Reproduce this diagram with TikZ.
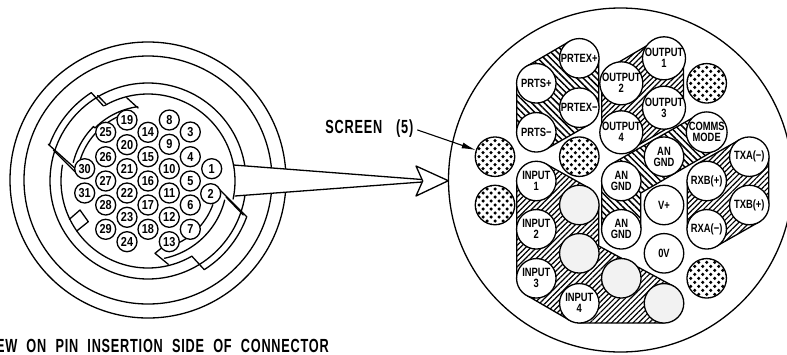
\documentclass[tikz,border=0pt]{standalone}
\usepackage{fontspec}
\usetikzlibrary{patterns.meta,arrows.meta}
\newfontfamily\narrowf[FakeStretch=0.78]{Liberation Sans}
\newfontfamily\titlef[FakeStretch=0.67,LetterSpace=4]{Liberation Sans}
\newfontfamily\pinf[FakeStretch=0.84]{Liberation Sans}
\newcommand{\rarc}[3]{plot[domain=#2:#3,samples=60] ({148+#1*cos(\x)},{181+#1*sin(\x)})}
\tikzset{
  ln/.style={line width=1.3pt,line join=round,line cap=round},
  pinnode/.style={circle,draw,fill=white,line width=1.3pt,minimum size=20pt,inner sep=0pt,font=\pinf\bfseries\fontsize{13}{12}\selectfont},
  cav/.style={circle,draw,fill=white,line width=1.3pt,minimum size=39.5pt,inner sep=0pt,align=center,font=\narrowf\bfseries\fontsize{12}{11}\selectfont},
  blank/.style={cav,fill=black!5},
  dotcav/.style={cav,path picture={
    \foreach \i in {-3,...,3}\foreach \j in {-6,...,6}{
      \pgfmathsetmacro{\dx}{8*\i+4*mod(abs(\j),2)}
      \pgfmathsetmacro{\dy}{4*\j}
      \fill[black] ([shift={(\dx pt,\dy pt)}]path picture bounding box.center) circle[radius=1.75pt];
    }}},
  hatchA/.style={draw,line width=1.3pt,pattern={Lines[angle=-45,distance=4.5pt,line width=1.5pt]}},
  hatchB/.style={draw,line width=1.3pt,pattern={Lines[angle=45,distance=3.8pt,line width=1.2pt]}},
  lbl/.style={inner sep=0pt,font=\titlef\bfseries\fontsize{19}{19}\selectfont}
}
\begin{document}
\begin{tikzpicture}[x=1pt,y=-1pt]
\useasboundingbox (0,0) rectangle (787,354);
% left connector circles
\draw[ln] (148,180) circle[radius=138pt];
\draw[ln] (148,180) circle[radius=124pt];
\draw[ln] (148,181) circle[radius=98pt];
% wedge
\fill[white] (233.5,165) -- (422,179.5) -- (422,182) -- (235,196) -- cycle;
\draw[ln] (233.5,165) -- (422,179.5);
\draw[ln] (235,196) -- (422,182);
% R87 circle pieces
\draw[ln] \rarc{87}{-120}{12};
\draw[ln] \rarc{87}{60}{190.5};
% upper-left key
\draw[ln] (75,168.3) -- (48.3,144.3) -- plot[domain=200.2:237.3,samples=40] ({148+105*cos(\x)},{181+105*sin(\x)}) -- (103.5,106);
\draw[ln] (53.3,150) -- (75,171.7);
\draw[ln] (97.7,95.5) -- (106,104);
\draw[ln] (126.7,97.7) -- (138,108) -- plot[domain=262:225,samples=30] ({148+75*cos(\x)},{181+75*sin(\x)}) -- plot[domain=225:194,samples=30] ({148+77*cos(\x)},{181+77*sin(\x)});
\draw[ln] \rarc{71}{250}{197};
% lower-right key
\draw[ln] (215,185) -- (246.7,216.7) -- plot[domain=19.9:57.6,samples=40] ({148+105*cos(\x)},{181+105*sin(\x)}) -- (191.7,256);
\draw[ln] (226,197) -- (243.3,215);
\draw[ln] (168.3,264.3) -- (155,253.3) -- (161.5,248);
\draw[ln] \rarc{79}{14}{78};
\draw[ln] \rarc{69}{20}{41} -- (194,223);
\draw[ln] \rarc{69}{50}{66};
% keyway
\draw[ln] (69.3,219.3) -- (80,210) -- (88.3,221.7) -- (76.7,231);
% pins
\foreach \n/\px/\py in {8/169.3/120,3/190.3/132,14/148/132.3,9/169.3/144.3,4/190.3/156.7,19/127/120,20/127/144.7,15/148/156.7,10/169.3/168.7,5/190.3/181,1/211.7/168.7,2/210.7/193.7,25/105.7/132.3,26/105.7/156.7,21/127/168.7,16/148/181,11/169.3/193,6/190.3/205,30/84.7/168.7,27/105.7/181,22/127/193,17/148/205,12/169.3/217.3,7/190.3/229.3,31/84.7/193,28/105.7/205,23/127/217.3,18/148/229.3,13/169.3/241.7,29/105.7/229.3,24/127/241.7}
  \node[pinnode] (p\n) at (\px,\py) {\n};
% large view
\draw[ln] (620.5,180) circle[radius=172pt];
% arrow head
\draw[ln,fill=white] (416,166) -- (448.3,180.7) -- (416,196) -- (422.7,181) -- cycle;
% hatched regions
\path[hatchA] (516.8,83.3) -- (526.5,66.4) -- (569.5,41.4) -- (598.8,58.3) -- (598.8,107.7) -- (589.1,124.6) -- (546.1,149.2) -- (516.8,132.3) -- cycle;
\path[hatchB] (601.8,83.3) -- (611.5,66.4) -- (654.2,41.4) -- (683.5,58.3) -- (683.5,107.7) -- (673.8,124.6) -- (631.1,149.2) -- (601.8,132.3) -- cycle;
\path[hatchA] (697,115.4) -- (611.5,164) -- (601.8,181) -- (601.8,229.3) -- (640.8,229.3) -- (640.8,193) -- (716.4,149.2) -- cycle;
\path[hatchB] (739.5,139.8) -- (697,164) -- (687.2,181) -- (687.2,229.3) -- (716.4,246.2) -- (759,222) -- (768.8,205) -- (768.8,156.7) -- cycle;
\path[hatchB] (546,164) -- (589,188) -- (598.8,205) -- (598.8,246) -- (673.8,286.4) -- (683.5,303.3) -- (664,323) -- (579.3,323) -- (569.5,320.2) -- (526.5,295.2) -- (516.8,278.3) -- (516.8,181) -- cycle;
% cavities
\node[cav] (prtexp) at (579.3,58.3) {PRTEX+};
\node[cav] (prtsp) at (536.3,83.3) {PRTS+};
\node[cav] (prtexm) at (579.3,107.7) {PRTEX−};
\node[cav] (prtsm) at (536.3,132.3) {PRTS−};
\node[cav] (out1) at (664,58.3) {OUTPUT\\1};
\node[cav] (out2) at (621.3,83.3) {OUTPUT\\2};
\node[cav] (out3) at (664,107.7) {OUTPUT\\3};
\node[cav] (out4) at (621.3,132.3) {OUTPUT\\4};
\node[cav] (comms) at (706.7,132.3) {COMMS\\MODE};
\node[cav] (an1) at (664,156.7) {AN\\GND};
\node[cav] (an2) at (621.3,181) {AN\\GND};
\node[cav] (an3) at (621.3,229.3) {AN\\GND};
\node[cav] (txam) at (749.3,156.7) {TXA(−)};
\node[cav] (rxbp) at (706.7,181) {RXB(+)};
\node[cav] (txbp) at (749.3,205) {TXB(+)};
\node[cav] (rxam) at (706.7,229.3) {RXA(−)};
\node[cav] (vplus) at (664,205) {V+};
\node[cav] (zerov) at (664,253.3) {0V};
\node[cav] (in1) at (536.3,181) {INPUT\\1};
\node[cav] (in2) at (536.3,229.3) {INPUT\\2};
\node[cav] (in3) at (536.3,278.3) {INPUT\\3};
\node[cav] (in4) at (579.3,303.3) {INPUT\\4};
\node[blank] (b1) at (579.3,205) {};
\node[blank] (b2) at (579.3,253.3) {};
\node[blank] (b3) at (621.3,278.3) {};
\node[blank] (b4) at (664,303.3) {};
\node[dotcav] (d1) at (495,156.7) {};
\node[dotcav] (d2) at (495,205) {};
\node[dotcav] (d3) at (579.3,156.7) {};
\node[dotcav] (d4) at (706.7,83.3) {};
\node[dotcav] (d5) at (706.7,278.3) {};
% labels
\node[lbl,anchor=base east] (screen) at (413.5,133.5) {\spaceskip=14pt SCREEN (5)};
\draw[line width=1.1pt,shorten <=4pt,-{Latex[length=14pt,width=6pt]}] (screen.east) -- (d1);
\node[lbl,anchor=base east] (view) at (329,352.5) {\spaceskip=9.2pt EW ON PIN INSERTION SIDE OF CONNECTOR};
\end{tikzpicture}
\end{document}
